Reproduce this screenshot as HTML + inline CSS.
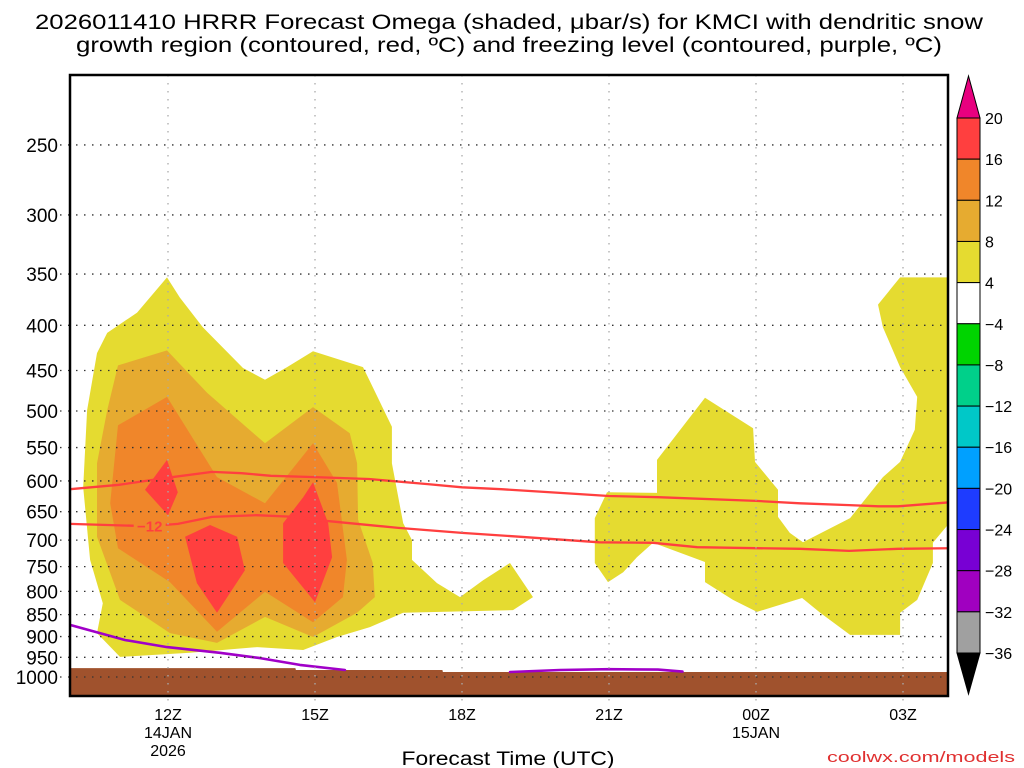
<!DOCTYPE html>
<html><head><meta charset="utf-8"><style>
html,body{margin:0;padding:0;background:#fff;width:1024px;height:768px;overflow:hidden}
svg{display:block;font-family:"Liberation Sans",sans-serif}
</style></head><body>
<svg id="chart" width="1024" height="768" viewBox="0 0 1024 768" xmlns="http://www.w3.org/2000/svg">
<text x="509" y="29" font-size="21" text-anchor="middle" textLength="948" lengthAdjust="spacingAndGlyphs">2026011410 HRRR Forecast Omega (shaded, μbar/s) for KMCI with dendritic snow</text>
<text x="509" y="52" font-size="21" text-anchor="middle" textLength="866" lengthAdjust="spacingAndGlyphs">growth region (contoured, red, ºC) and freezing level (contoured, purple, ºC)</text>
<g id="plot"></g>
<g id="axes"></g>
<g id="cbar"></g>
<text x="508" y="765" font-size="19" text-anchor="middle" textLength="213" lengthAdjust="spacingAndGlyphs">Forecast Time (UTC)</text>
<text x="1015" y="762" font-size="15" fill="#e03030" text-anchor="end" textLength="188" lengthAdjust="spacingAndGlyphs">coolwx.com/models</text>
</svg>
<script>
// ---- data ----
const pressureTicks=[250,300,350,400,450,500,550,600,650,700,750,800,850,900,950,1000];
const timeTickHours=[12,15,18,21,24,27];
const timeTickLabels=["12Z","15Z","18Z","21Z","00Z","03Z"];
const timeTickSub=[["14JAN","2026"],[],[],[],["15JAN"],[]];
// omega shading contours, [hour, hPa]
const omega4Left=[[11.98,353],[12.24,372],[12.71,402],[13.53,447],[13.98,461],[14.43,446],[14.96,428],[15.98,446],[16.18,470],[16.57,521],[16.57,573],[16.8,670],[16.98,700],[16.98,737],[17.49,783],[17.96,812],[18.43,777],[18.98,743],[19.45,812],[19.04,840],[16.8,846],[16.12,878],[15.45,901],[14.76,932],[13.82,925],[12.45,939],[11.02,949],[10.55,892],[10.67,825],[10.41,737],[10.27,610],[10.35,499],[10.55,430],[10.76,408],[11.37,387]];
const omega4Right=[[20.71,661],[20.96,618],[21.98,619],[21.98,568],[22.96,483],[23.94,523],[23.98,571],[24.45,614],[24.45,659],[24.69,687],[24.96,704],[25.92,661],[26.59,594],[26.94,571],[27.24,525],[27.29,482],[26.94,446],[26.59,402],[26.49,379],[26.94,353],[28,353],[28,664],[27.61,705],[27.61,743],[27.29,818],[26.94,846],[26.94,896],[25.92,896],[25.31,846],[24.94,814],[24.02,844],[23.53,818],[22.96,781],[22.96,741],[21.9,705],[21.57,732],[21.29,761],[20.98,781],[20.71,743]];
const omega8=[[11.98,427],[12.8,477],[13.98,544],[14.96,495],[15.71,530],[15.86,573],[15.88,664],[16.18,743],[16.22,812],[15.86,846],[14.96,901],[13.98,855],[13,915],[12.04,892],[11.02,818],[10.55,694],[10.55,573],[10.76,499],[10.98,444]];
const omega12=[[11.98,482],[13,594],[13.98,636],[14.96,544],[15.45,603],[15.65,737],[15.57,812],[14.96,867],[13.98,801],[13,889],[12.04,781],[10.98,715],[10.82,636],[10.98,519]];
const omega16a=[[11.98,568],[12.2,618],[12.0,656],[11.53,614]];
const omega16b=[[12.35,694],[12.86,673],[13.41,694],[13.57,757],[13,846],[12.59,783]];
const omega16c=[[14.96,602],[15.27,670],[15.35,732],[15,823],[14.35,743],[14.35,670],[14.76,626]];
// temperature contours
const dgzTopHours=[10,11,12,12.9,13.5,14.1,15,16.1,17.3,18,18.8,20,21,22,24,24.9,25.9,26.5,26.9,28];
const dgzTopP=[613,606,595,586,588,592,594,597,605,610,613,619,624,626,632,636,639,641,641,634];
const dgzBotHours=[10,11.6,12.2,12.9,13.8,14.6,15,16.7,18,19.2,20.8,21.9,22.8,24,24.9,25.9,26.9,28];
const dgzBotP=[671,675,671,659,656,659,664,678,687,694,704,705,713,715,716,720,716,715];
const frzAHours=[10,10.61,11.12,11.98,13.06,13.88,14.69,15.61];
const frzAP=[873,892,908,925,939,952,969,982];
const frzBHours=[18.98,20,21,22,22.5];
const frzBP=[987,982,980,981,986];
const terrainHours=[10,14.6,14.61,17.6,17.61,28];
const terrainP=[977,977,982,982,987,987];
// colorbar
const cbarLabels=["20","16","12","8","4","−4","−8","−12","−16","−20","−24","−28","−32","−36"];
const cbarColors=["#ff3f3f","#f0862a","#e6ab30","#e5db30","#ffffff","#00d400","#00d08a","#00c8c8","#00a0ff","#1e3cff","#7800d4","#a000c0","#a0a0a0"];

// ---- scales ----
const X0=70,X1=948,Y0=75,Y1=696;
const x=h=>X0+(h-10)*49;
const y=p=>677-383.8*Math.log(1000/p);
const NS="http://www.w3.org/2000/svg";
function mk(tag,attrs,parent){const e=document.createElementNS(NS,tag);for(const k in attrs)e.setAttribute(k,attrs[k]);parent.appendChild(e);return e;}
const plot=document.getElementById('plot'),axes=document.getElementById('axes'),cbar=document.getElementById('cbar');
mk('clipPath',{id:'clip'},plot).appendChild(Object.assign(document.createElementNS(NS,'rect'),{}));
plot.querySelector('clipPath rect').setAttribute('x',X0);plot.querySelector('clipPath rect').setAttribute('y',Y0);
plot.querySelector('clipPath rect').setAttribute('width',X1-X0);plot.querySelector('clipPath rect').setAttribute('height',Y1-Y0);
const g=mk('g',{'clip-path':'url(#clip)'},plot);
function poly(pts,fill,name){const e=mk('polygon',{points:pts.map(q=>x(q[0]).toFixed(1)+','+y(q[1]).toFixed(1)).join(' '),fill:fill},g);

}
poly(omega4Left,'#e5db30','omega-4-contour-left');
poly(omega4Right,'#e5db30','omega-4-contour-right');
poly(omega8,'#e6ab30','omega-8-contour');
poly(omega12,'#f0862a','omega-12-contour');
poly(omega16a,'#ff3f3f','omega-16-core-a');
poly(omega16b,'#ff3f3f','omega-16-core-b');
poly(omega16c,'#ff3f3f','omega-16-core-c');
// terrain
{const pts=terrainHours.map((h,i)=>[x(h),y(terrainP[i])]);pts.push([X1,Y1],[X0,Y1]);
const e=mk('polygon',{points:pts.map(q=>q.join(',')).join(' '),fill:'#a0522d'},g);

}
// gridlines
pressureTicks.forEach(p=>{const l=mk('line',{x1:60,x2:X1,y1:y(p),y2:y(p),stroke:'#333','stroke-width':1.3,'stroke-dasharray':'1.5 6.5'},plot);

});
timeTickHours.forEach(h=>{const l=mk('line',{x1:x(h),x2:x(h),y1:Y0,y2:Y1+8,stroke:'#aaa','stroke-width':1.3,'stroke-dasharray':'1.5 6.5'},plot);

});
// lines
function line(hs,ps,col,w,name){const e=mk('polyline',{points:hs.map((h,i)=>x(h).toFixed(1)+','+y(ps[i]).toFixed(1)).join(' '),fill:'none',stroke:col,'stroke-width':w,'stroke-linejoin':'round','stroke-linecap':'round'},g);

}
line(dgzTopHours,dgzTopP,'#ff3f3f',2.3,'dgz-top-contour');
line(dgzBotHours,dgzBotP,'#ff3f3f',2.3,'dgz-bottom-contour');
line(frzAHours,frzAP,'#a000c8',2.6,'freezing-level-a');
line(frzBHours,frzBP,'#a000c8',2.6,'freezing-level-b');
{const r=mk('rect',{x:x(11.3),y:y(674)-8,width:32,height:16,fill:'#f0862a'},g);


const t=mk('text',{x:x(11.3)+16,y:y(674)+6,'font-size':15,'font-weight':'bold',fill:'#ff3f3f','text-anchor':'middle'},g);t.textContent='−12';

}
// frame
{const f=mk('rect',{x:X0,y:Y0,width:X1-X0,height:Y1-Y0,fill:'none',stroke:'#000','stroke-width':2.5},axes);

}
pressureTicks.forEach(p=>{const t=mk('text',{x:58,y:y(p)+7,'font-size':19,'text-anchor':'end'},axes);t.textContent=p;

});
timeTickHours.forEach((h,i)=>{const t=mk('text',{x:x(h),y:720,'font-size':16,'text-anchor':'middle'},axes);t.textContent=timeTickLabels[i];


timeTickSub[i].forEach((s,j)=>{const u=mk('text',{x:x(h),y:738+j*18,'font-size':16,'text-anchor':'middle'},axes);u.textContent=s;

});});
// colorbar
const CX=957,CW=23,CT=118,CB=653,bh=(CB-CT)/cbarColors.length;
{const a=mk('polygon',{points:`${CX},${CT} ${CX+CW/2},${CT-42} ${CX+CW},${CT}`,fill:'#e8007f',stroke:'#000','stroke-width':1},cbar);


const b=mk('polygon',{points:`${CX},${CB} ${CX+CW/2},${CB+41} ${CX+CW},${CB}`,fill:'#000',stroke:'#000','stroke-width':1},cbar);

}
cbarColors.forEach((c,i)=>{const r=mk('rect',{x:CX,y:CT+i*bh,width:CW,height:bh,fill:c,stroke:'#000','stroke-width':1},cbar);

});
cbarLabels.forEach((l,i)=>{const t=mk('text',{x:985,y:CT+i*bh+6,'font-size':16},cbar);t.textContent=l;

});
</script>
</body></html>
